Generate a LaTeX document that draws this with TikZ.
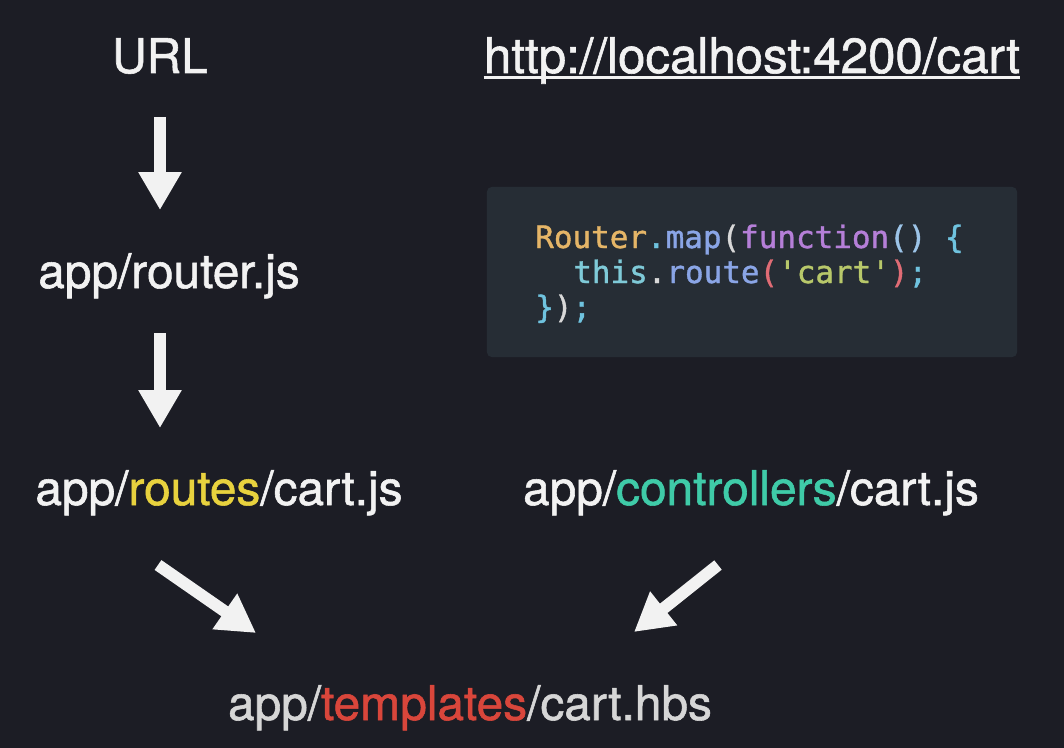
\documentclass[tikz,border=0pt]{standalone}
\usepackage{fontspec}
\setmainfont[FakeBold=1.2]{TeX Gyre Heros}
\newfontfamily\codefont[FakeBold=1.2]{DejaVu Sans Mono}
\usetikzlibrary{arrows.meta, positioning}
\definecolor{BgDark}{HTML}{1C1D25}
\definecolor{CodeBg}{HTML}{262D35}
\definecolor{TextWhite}{HTML}{F2F2F2}
\definecolor{TextDim}{HTML}{D6D6D6}
\definecolor{RouteYellow}{HTML}{E8D23E}
\definecolor{CtrlTeal}{HTML}{3FCBA8}
\definecolor{TplRed}{HTML}{D9463B}
\definecolor{CodeOrange}{HTML}{E5B567}
\definecolor{CodeCyan}{HTML}{6FC3DF}
\definecolor{CodeBlue}{HTML}{8AA5E6}
\definecolor{CodePurple}{HTML}{B57FD8}
\definecolor{CodeSky}{HTML}{9CC4E8}
\definecolor{CodeThis}{HTML}{7FCAD8}
\definecolor{CodeRed}{HTML}{E06C75}
\definecolor{CodeGreen}{HTML}{B8C86A}
\definecolor{CodeGrey}{HTML}{D8D8D8}

\begin{document}
\begin{tikzpicture}[x=0.025cm, y=-0.025cm,
  filename/.style={anchor=base, inner sep=0pt, text=TextWhite, font=\fontsize{34}{40}\selectfont},
  codeline/.style={anchor=base west, inner sep=0pt, font=\codefont\fontsize{22}{26}\selectfont},
  flow/.style={draw=TextWhite, line width=8.5pt, -{Triangle[length=27pt, width=29pt]}}]
  % Background
  \fill[BgDark] (0,0) rectangle (1064,748);
  % Top row
  \node[filename] (url) at (160,73) {URL};
  \node[filename, font=\fontsize{35}{40}\selectfont] (link) at (752,73) {http://localhost:4200/cart};
  \draw[TextWhite, line width=2pt] ([yshift=-0.12cm]link.base west) -- ([yshift=-0.12cm]link.base east);
  % Code box
  \node[fill=CodeBg, rounded corners=0.12cm, minimum width=13.25cm, minimum height=4.25cm] (codebox) at (752,272) {};
  \node[codeline] (code1) at (535,248) {\textcolor{CodeOrange}{Router}\textcolor{CodeCyan}{.}\textcolor{CodeBlue}{map}\textcolor{CodeGrey}{(}\textcolor{CodePurple}{function}\textcolor{CodeSky}{()} \textcolor{CodeCyan}{\{}};
  \node[codeline] (code2) at (573,283) {\textcolor{CodeThis}{this}\textcolor{CodeGrey}{.}\textcolor{CodeBlue}{route}\textcolor{CodeRed}{(}\textcolor{CodeGreen}{\textquotesingle cart\textquotesingle}\textcolor{CodeRed}{)}\textcolor{CodeCyan}{;}};
  \node[codeline] (code3) at (535,318) {\textcolor{CodeCyan}{\}}\textcolor{CodeGrey}{)}\textcolor{CodeCyan}{;}};
  % Files
  \node[filename] (router) at (169,288) {app/router.js};
  \node[filename] (routes) at (219,505) {app/\textcolor{RouteYellow}{routes}/cart.js};
  \node[filename] (controllers) at (751,505) {app/\textcolor{CtrlTeal}{controllers}/cart.js};
  \node[filename, text=TextDim] (templates) at (470,720) {app/\textcolor{TplRed}{templates}/cart.hbs};
  % Arrows
  \coordinate (a1s) at (160,117); \coordinate (a1e) at (160,210);
  \coordinate (a2s) at (160,333); \coordinate (a2e) at (160,428);
  \coordinate (a3s) at (158,565); \coordinate (a3e) at (256,633);
  \coordinate (a4s) at (718,565); \coordinate (a4e) at (634,632);
  \draw[flow] (a1s) -- (a1e);
  \draw[flow] (a2s) -- (a2e);
  \draw[flow] (a3s) -- (a3e);
  \draw[flow] (a4s) -- (a4e);
\end{tikzpicture}
\end{document}
